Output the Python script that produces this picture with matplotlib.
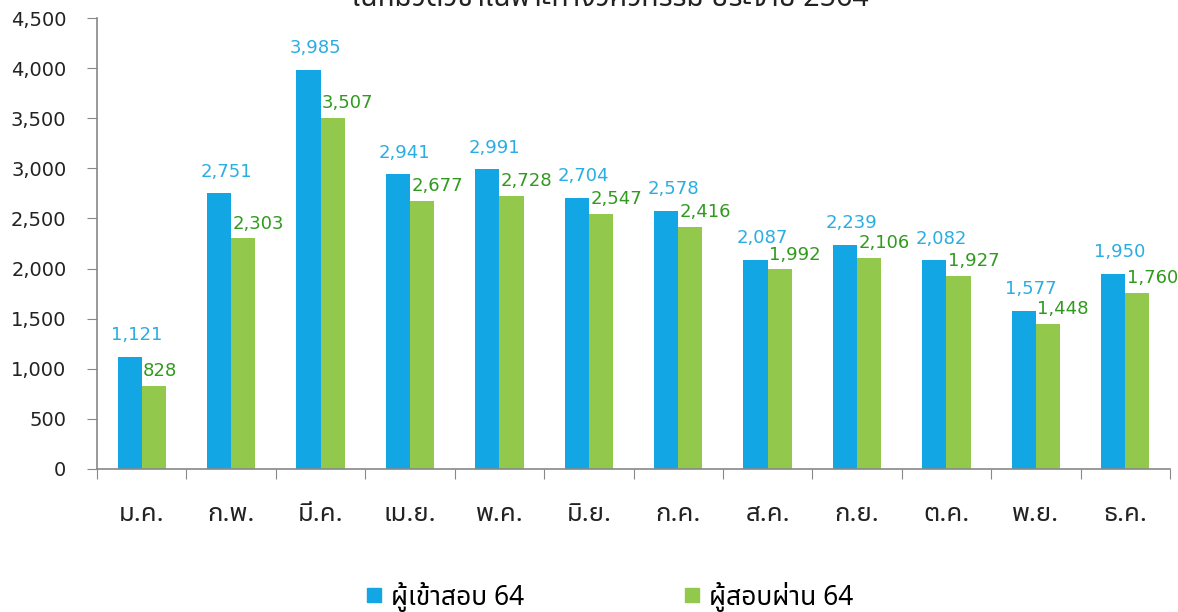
import numpy as np
import matplotlib
matplotlib.use("Agg")
import matplotlib.pyplot as plt
from matplotlib import font_manager
from matplotlib.ft2font import FT2Font
from matplotlib.lines import Line2D

months = ["ม.ค.", "ก.พ.", "มี.ค.", "เม.ย.", "พ.ค.", "มิ.ย.", "ก.ค.", "ส.ค.", "ก.ย.", "ต.ค.", "พ.ย.", "ธ.ค."]
applicants = [1121, 2751, 3985, 2941, 2991, 2704, 2578, 2087, 2239, 2082, 1577, 1950]
passed = [828, 2303, 3507, 2677, 2728, 2547, 2416, 1992, 2106, 1927, 1448, 1760]
series_names = ["ผู้เข้าสอบ 64", "ผู้สอบผ่าน 64"]
title = "ในหมวดวิชาเฉพาะทางวิศวกรรม ประจำปี 2564"


def find_thai_font():
    cands = []
    for f in font_manager.fontManager.ttflist:
        try:
            cm = FT2Font(f.fname).get_charmap()
        except Exception:
            continue
        if 0x0E01 in cm and 0x0E39 in cm:
            cands.append(f.name)
    if not cands:
        return None
    for pref in ["Noto Sans Thai", "Noto Sans Thai UI", "Tahoma", "Loma", "Garuda", "Noto Sans"]:
        if pref in cands:
            return pref
    return cands[0]


thai = find_thai_font()
fams = [thai, "DejaVu Sans"] if thai else ["DejaVu Sans"]
plt.rcParams["font.family"] = fams

W, H = 1178, 612
fig = plt.figure(figsize=(W / 100, H / 100), dpi=100)
ax = fig.add_axes([97 / W, 1 - 469 / H, (1170 - 97) / W, (469 - 18) / H])

blue = "#13A6E4"
green = "#92C84B"
blue_txt = "#2AADE2"
green_txt = "#2F9A1C"

x = np.arange(len(months))
bw = 0.27
ax.bar(x - bw / 2, applicants, bw, color=blue, zorder=2)
ax.bar(x + bw / 2, passed, bw, color=green, zorder=2)

for i in range(len(months)):
    ax.annotate(f"{applicants[i]:,}", (x[i] - bw / 2, applicants[i]), xytext=(5, 9),
                textcoords="offset points", ha="center", va="bottom",
                color=blue_txt, fontsize=13, family="DejaVu Sans")
    ax.annotate(f"{passed[i]:,}", (x[i], passed[i]), xytext=(1, 4),
                textcoords="offset points", ha="left", va="bottom",
                color=green_txt, fontsize=13, family="DejaVu Sans")

ax.set_xlim(-0.5, len(months) - 0.5)
ax.set_ylim(0, 4500)
ax.set_yticks(np.arange(0, 4501, 500))
ax.set_yticklabels([f"{v:,}" for v in range(0, 4501, 500)], fontsize=14, family="DejaVu Sans", color="#222222")

ax.set_xticks(np.arange(-0.5, len(months), 1.0))
ax.set_xticklabels([])
ax.set_xticks(x, minor=True)
ax.set_xticklabels(months, minor=True, fontsize=18.5, color="#222222", fontweight="bold")
ax.tick_params(axis="x", which="minor", length=0, pad=24)
ax.tick_params(axis="x", which="major", length=7, color="#888888", direction="out")
ax.tick_params(axis="y", length=7, color="#888888", direction="out", pad=15)

for s in ["top", "right"]:
    ax.spines[s].set_visible(False)
for s in ["left", "bottom"]:
    ax.spines[s].set_color("#888888")
    ax.spines[s].set_linewidth(1.2)

fig.text(0.518, 1.0 + 2 / H, title, ha="center", va="center", fontsize=20.5, color="#222222")

handles = [Line2D([], [], marker="s", linestyle="none", markersize=10, color=blue),
           Line2D([], [], marker="s", linestyle="none", markersize=10, color=green)]
fig.legend(handles, series_names, loc="center", bbox_to_anchor=(0.517, 0.025), ncol=2,
           frameon=False, fontsize=19, columnspacing=6.0, handletextpad=0.3, handlelength=0.7)

fig.savefig("out.png", dpi=100, facecolor="white")
